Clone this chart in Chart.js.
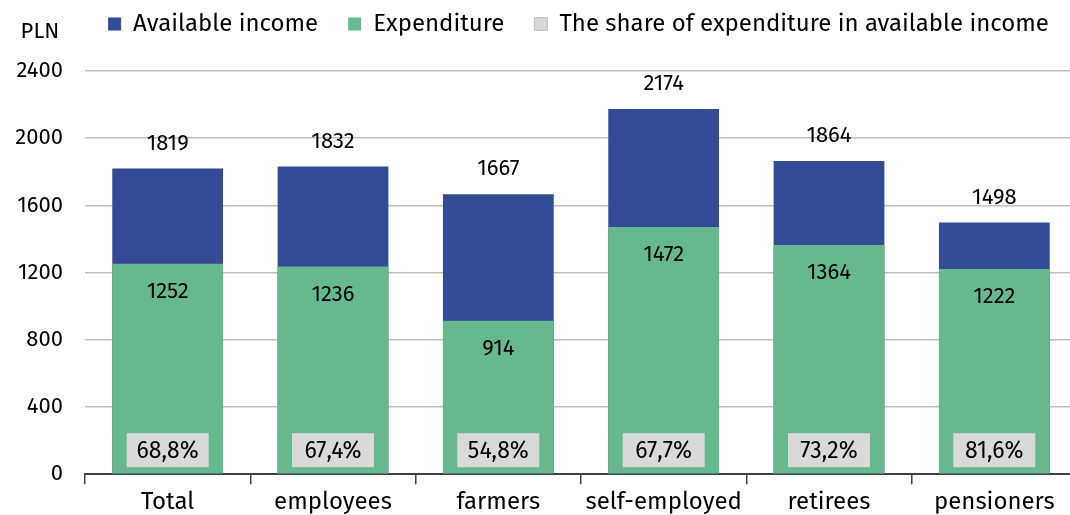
<!DOCTYPE html>
<html lang="en">
<head>
    <meta charset="UTF-8">
    <title>Available income and expenditure</title>
    <script src="https://cdn.jsdelivr.net/npm/chart.js"></script>
    <style>
        html, body { margin: 0; padding: 0; background: #ffffff; overflow: hidden; }
        .chart-box { position: absolute; left: 0; top: 0; width: 1077px; height: 521px; }
    </style>
</head>
<body>
    <div class="chart-box"><canvas id="incomeChart"></canvas></div>

    <script>
        const categories = ['Total', 'employees', 'farmers', 'self-employed', 'retirees', 'pensioners'];
        const availableIncome = [1819, 1832, 1667, 2174, 1864, 1498];
        const expenditure = [1252, 1236, 914, 1472, 1364, 1222];
        const shareValues = [68.8, 67.4, 54.8, 67.7, 73.2, 81.6];
        const yTicks = [0, 400, 800, 1200, 1600, 2000, 2400];

        const FONT = "'Fira Sans', 'Open Sans', 'Noto Sans', sans-serif";
        const BLUE = '#334a94';
        const GREEN = '#66b88f';
        const GREY = '#d9d9d9';

        // numbers above / inside the bars, share boxes at the bottom, "PLN" unit
        const labelPlugin = {
            id: 'barLabels',
            afterDatasetsDraw(chart) {
                const ctx = chart.ctx;
                const yScale = chart.scales.y;
                const incomeMeta = chart.getDatasetMeta(0);
                const expMeta = chart.getDatasetMeta(1);
                ctx.save();
                ctx.fillStyle = '#000000';
                ctx.textAlign = 'center';
                ctx.textBaseline = 'middle';
                ctx.font = '22px ' + FONT;
                incomeMeta.data.forEach((bar, i) => {
                    ctx.fillText(String(availableIncome[i]), bar.x, bar.y - 25);
                });
                expMeta.data.forEach((bar, i) => {
                    ctx.fillText(String(expenditure[i]), bar.x, bar.y + 28);
                });
                ctx.font = '23px ' + FONT;
                incomeMeta.data.forEach((bar, i) => {
                    const cy = yScale.bottom - 24;
                    ctx.fillStyle = GREY;
                    ctx.fillRect(bar.x - 41, cy - 17, 82, 34);
                    ctx.fillStyle = '#000000';
                    ctx.fillText(shareValues[i].toFixed(1).replace('.', ',') + '%', bar.x, cy + 1);
                });
                ctx.font = '22px ' + FONT;
                ctx.fillText('PLN', 40, chart.chartArea.top - 39);
                ctx.restore();
            }
        };

        // legend: fixed height, drawn higher and a bit to the right
        const legendPlace = {
            id: 'legendPlace',
            afterInit(chart) {
                const fit = chart.legend.fit;
                chart.legend.fit = function () {
                    fit.call(this);
                    this.height = 71;
                };
            },
            afterLayout(chart) {
                const lg = chart.legend;
                lg.left += 40;
                lg.right += 40;
                lg.top -= 18;
                lg.bottom -= 18;
            }
        };

        new Chart(document.getElementById('incomeChart'), {
            type: 'bar',
            data: {
                labels: categories,
                datasets: [
                    { label: 'Available income', data: availableIncome, backgroundColor: BLUE, order: 1 },
                    { label: 'Expenditure', data: expenditure, backgroundColor: GREEN, order: 0 },
                    { label: 'The share of expenditure in available income', data: [], backgroundColor: GREY, borderColor: '#bfbfbf', borderWidth: 1, order: 2 }
                ]
            },
            options: {
                responsive: true,
                maintainAspectRatio: false,
                animation: false,
                layout: { padding: { left: 0, right: 0, top: 0, bottom: 0 } },
                datasets: {
                    bar: { grouped: false, barPercentage: 0.67, categoryPercentage: 1 }
                },
                plugins: {
                    tooltip: { enabled: false },
                    legend: {
                        position: 'top',
                        labels: {
                            color: '#000000',
                            font: { family: FONT, size: 24 },
                            boxWidth: 13,
                            boxHeight: 13,
                            padding: 30,
                            sort: (a, b) => a.datasetIndex - b.datasetIndex
                        }
                    }
                },
                scales: {
                    x: {
                        grid: { display: true, offset: true, drawOnChartArea: false, color: '#404040', tickLength: 10, lineWidth: 1.5 },
                        border: { display: true, color: '#404040', width: 2 },
                        ticks: { color: '#000000', font: { family: FONT, size: 24 }, padding: 4, maxRotation: 0 }
                    },
                    y: {
                        min: 0,
                        max: 2400,
                        afterBuildTicks(axis) { axis.ticks = yTicks.map(v => ({ value: v })); },
                        afterFit(axis) { axis.width = 85; },
                        grid: { color: '#bfbfbf', lineWidth: 1.5, drawTicks: false },
                        border: { display: false },
                        ticks: { color: '#000000', font: { family: FONT, size: 22 }, padding: 22, callback: v => String(v) }
                    }
                }
            },
            plugins: [labelPlugin, legendPlace]
        });
    </script>
</body>
</html>
